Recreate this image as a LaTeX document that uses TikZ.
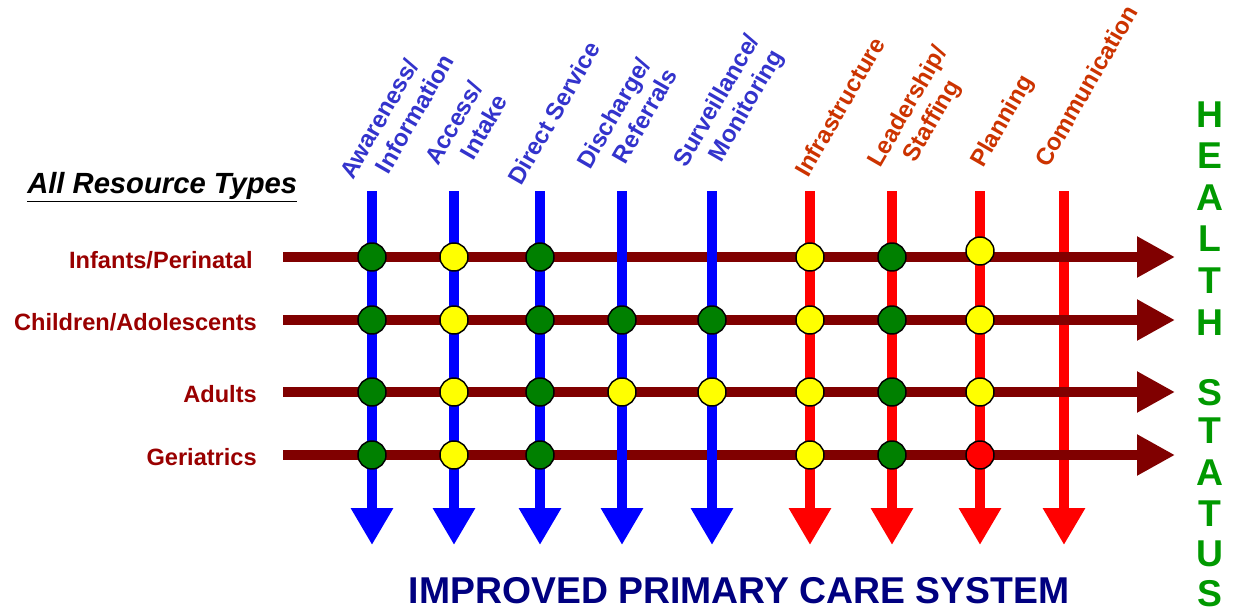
\documentclass[tikz,border=0pt]{standalone}
\usepackage{fontspec}
\setmainfont{Liberation Sans}
\usetikzlibrary{arrows.meta,calc}

\definecolor{colblue}{RGB}{0,0,255}
\definecolor{colred}{RGB}{255,0,0}
\definecolor{rowred}{RGB}{128,0,0}
\definecolor{bluetext}{RGB}{51,51,204}
\definecolor{redtext}{RGB}{204,51,0}
\definecolor{labelred}{RGB}{153,0,0}
\definecolor{dotgreen}{RGB}{0,128,0}
\definecolor{dotyellow}{RGB}{255,255,0}
\definecolor{dotred}{RGB}{255,0,0}
\definecolor{statusgreen}{RGB}{0,153,0}
\definecolor{navytext}{RGB}{0,0,128}

% two line column heading, second line set in a little
\newcommand{\twoline}[2]{\begin{tabular}[t]{@{}l@{}}#1\\\hspace*{0.95em}#2\end{tabular}}

\tikzset{
  colarrow/.style={line width=7.5pt, -{Triangle[width=30pt,length=27.75pt]}},
  rowarrow/.style={draw=rowred, line width=7pt, -{Triangle[width=29pt,length=28.5pt]}},
  ratingdot/.style={circle, draw=black, line width=1.1pt, minimum size=21pt, inner sep=0pt},
  collabel/.style={rotate=60, anchor=base west, inner sep=0pt, font=\bfseries\fontsize{18}{21}\selectfont},
  rowlabel/.style={anchor=base east, inner sep=0pt, text=labelred, font=\bfseries\fontsize{17.7}{22}\selectfont},
  statusletter/.style={anchor=base, inner sep=0pt, text=statusgreen, font=\bfseries\fontsize{28}{32}\selectfont}
}

\begin{document}
\begin{tikzpicture}[x=0.75pt,y=0.75pt,yscale=-1,xscale=1]
\useasboundingbox (0,0) rectangle (1233,611);

% column ends
\foreach \i/\x in {1/372,2/454,3/540,4/622,5/712,6/810,7/892,8/980,9/1064}{
  \coordinate (t\i) at (\x,191);
  \coordinate (b\i) at (\x,545);
}
% row ends
\foreach \j/\y in {1/257,2/320,3/392,4/455}{
  \coordinate (l\j) at (283,\y);
  \coordinate (r\j) at (1175,\y);
}

%Straight Lines (communication runs under the rows)
\draw [colarrow, draw=colred, fill=colred] (t9) -- (b9);
%Straight Lines (resource types)
\foreach \j in {1,...,4}
  \draw [rowarrow, fill=rowred] (l\j) -- (r\j);
%Straight Lines (services)
\foreach \i in {1,...,5}
  \draw [colarrow, draw=colblue, fill=colblue] (t\i) -- (b\i);
%Straight Lines (system)
\foreach \i in {6,7,8}
  \draw [colarrow, draw=colred, fill=colred] (t\i) -- (b\i);

% ratings
\foreach \i/\j/\f in {1/1/dotgreen,2/1/dotyellow,3/1/dotgreen,6/1/dotyellow,7/1/dotgreen,
    1/2/dotgreen,2/2/dotyellow,3/2/dotgreen,4/2/dotgreen,5/2/dotgreen,6/2/dotyellow,7/2/dotgreen,8/2/dotyellow,
    1/3/dotgreen,2/3/dotyellow,3/3/dotgreen,4/3/dotyellow,5/3/dotyellow,6/3/dotyellow,7/3/dotgreen,8/3/dotyellow,
    1/4/dotgreen,2/4/dotyellow,3/4/dotgreen,6/4/dotyellow,7/4/dotgreen,8/4/dotred}
  \node [ratingdot, fill=\f] (d\i\j) at (t\i |- l\j) {};
\node [ratingdot, fill=dotyellow] (d81) at ($(t8 |- l1)+(0,-6)$) {};

% Text Node
\node [anchor=base west, inner sep=0pt, font=\bfseries\itshape\fontsize{21.9}{26}\selectfont] (alltypes) at (27,193) {\underline{All Resource Types}};

% Text Node
\node [rowlabel] (infants) at (253,268) {Infants/Perinatal};
\node [rowlabel] (children) at (257,330) {Children/Adolescents};
\node [rowlabel] (adults) at (257,402) {Adults};
\node [rowlabel] (geriatrics) at (257,465) {Geriatrics};

% Text Node
\node [collabel, text=bluetext] (awareness) at (353,181) {\twoline{Awareness/}{Information}};
\node [collabel, text=bluetext] (access) at (438,167) {\twoline{Access/}{Intake}};
\node [collabel, text=bluetext] (direct) at (521,187) {Direct Service};
\node [collabel, text=bluetext] (discharge) at (590,171) {\twoline{Discharge/}{Referrals}};
\node [collabel, text=bluetext] (surveillance) at (686,169) {\twoline{Surveillance/}{Monitoring}};
\node [collabel, text=redtext] (infra) at (808,179) {Infrastructure};
\node [collabel, text=redtext] (leadership) at (880,169) {\twoline{Leadership/}{Staffing}};
\node [collabel, text=redtext] (planning) at (983,169) {Planning};
\node [collabel, text=redtext] (communication) at (1048,169) {Communication};

% Text Node
\foreach \k/\ch/\y in {1/H/127,2/E/168,3/A/210,4/L/251,5/T/293,6/H/335,
    7/S/405,8/T/443,9/A/485,10/T/526,11/U/566,12/S/606}
  \node [statusletter] (hs\k) at (1210,\y) {\ch};

% Text Node
\node [anchor=base, inner sep=0pt, text=navytext, font=\bfseries\fontsize{28}{32}\selectfont] (system) at (739,603) {IMPROVED PRIMARY CARE SYSTEM};

\end{tikzpicture}
\end{document}
